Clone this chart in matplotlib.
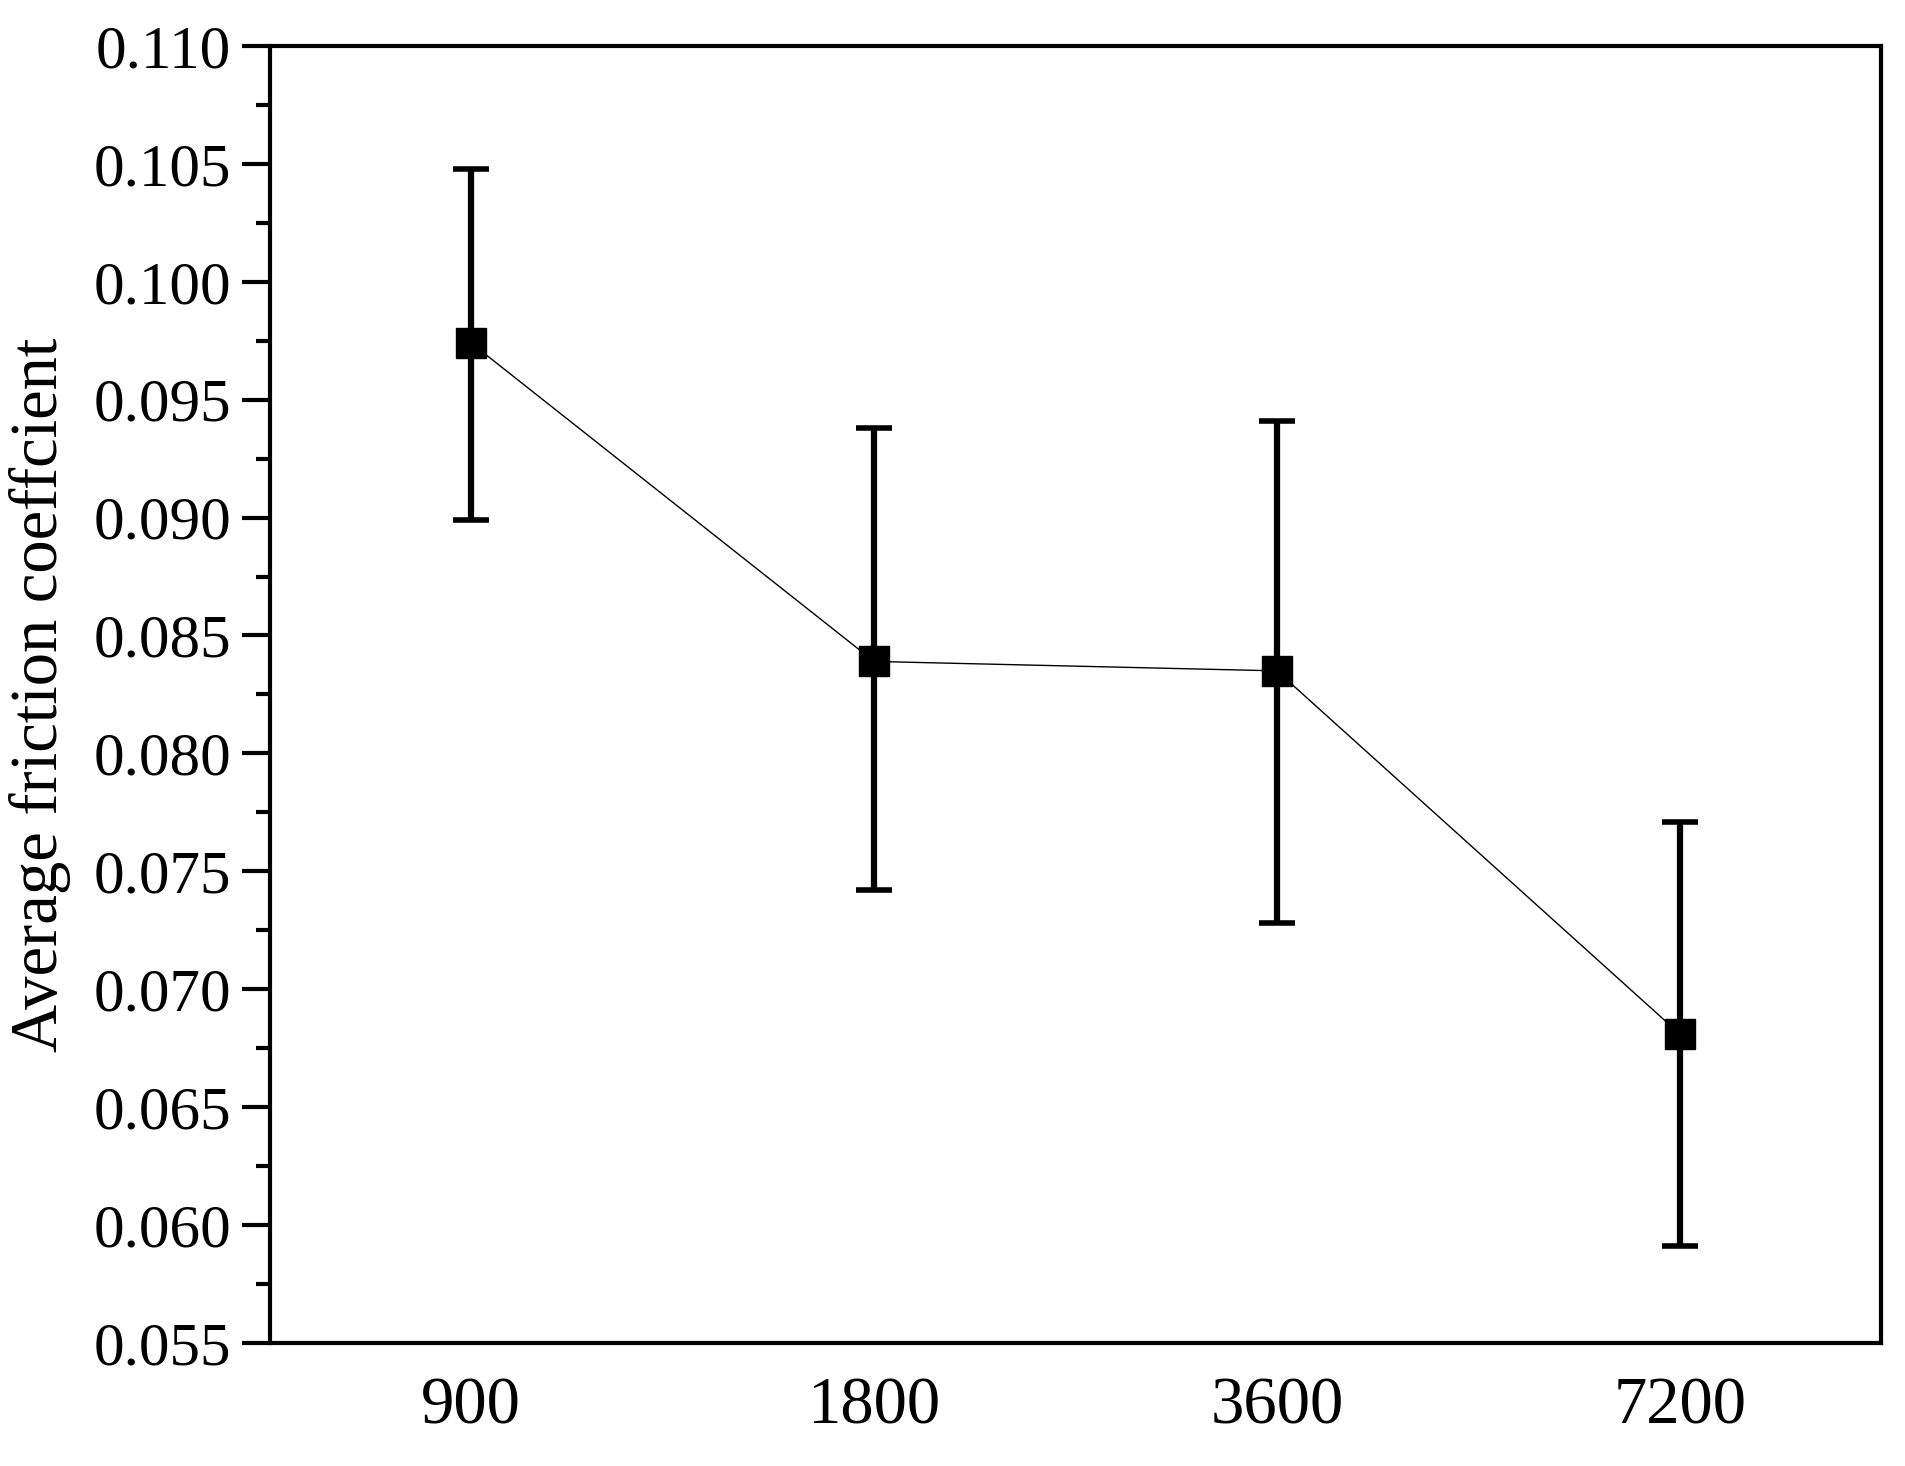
import matplotlib
matplotlib.use("Agg")
import matplotlib.pyplot as plt
from matplotlib.ticker import MultipleLocator
import numpy as np

categories = ["900", "1800", "3600", "7200"]
means = [0.0974, 0.0839, 0.0835, 0.0681]
upper = [0.1048, 0.0938, 0.0941, 0.0771]
lower = [0.0899, 0.0742, 0.0728, 0.0591]

plt.rcParams['font.family'] = ['Liberation Serif', 'DejaVu Serif']
fig = plt.figure(figsize=(19.06, 14.66), dpi=100)
ax = fig.add_axes([0.1416, 0.084, 0.8454, 0.8846])
x = np.arange(len(categories))
m = np.array(means)
yerr = [m - np.array(lower), np.array(upper) - m]
ax.plot(x, m, color='black', lw=1)
ax.errorbar(x, m, yerr=yerr, fmt='s', color='black', ms=22, elinewidth=4.5,
            capsize=13, capthick=4)
ax.set_xlim(-0.5, 3.5)
ax.set_ylim(0.055, 0.110)
ax.set_xticks(x)
ax.set_xticklabels(categories)
ax.yaxis.set_major_locator(MultipleLocator(0.005))
ax.yaxis.set_minor_locator(MultipleLocator(0.0025))
ax.yaxis.set_major_formatter(matplotlib.ticker.FormatStrFormatter('%.3f'))
ax.tick_params(axis='y', which='major', length=20, width=3, labelsize=44, pad=8)
ax.tick_params(axis='y', which='minor', length=10, width=3)
ax.tick_params(axis='x', length=0, labelsize=48, pad=24)
for s in ax.spines.values():
    s.set_linewidth(3)
ax.set_ylabel('Average friction coeffcient', fontsize=48, labelpad=16)
fig.savefig('out.png', dpi=100)
